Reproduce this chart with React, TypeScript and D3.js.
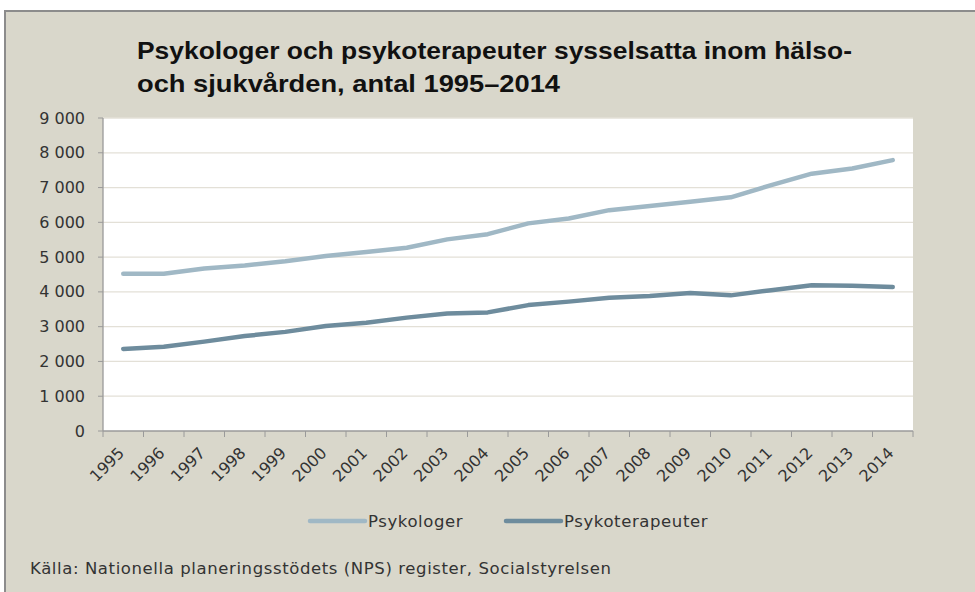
import React from 'react';
import * as d3 from 'd3';

const years = ['1995', '1996', '1997', '1998', '1999', '2000', '2001', '2002', '2003', '2004',
  '2005', '2006', '2007', '2008', '2009', '2010', '2011', '2012', '2013', '2014'];
const psykologer = [4520, 4520, 4670, 4760, 4880, 5030, 5150, 5270, 5510, 5660,
  5970, 6110, 6350, 6470, 6590, 6720, 7070, 7400, 7550, 7790];
const psykoterapeuter = [2360, 2420, 2570, 2730, 2850, 3020, 3110, 3260, 3380, 3410,
  3620, 3720, 3830, 3880, 3970, 3900, 4050, 4190, 4180, 4140];
const yTicks = [0, 1000, 2000, 3000, 4000, 5000, 6000, 7000, 8000, 9000];
const titleLines = ['Psykologer och psykoterapeuter sysselsatta inom hälso-', 'och sjukvården, antal 1995–2014'];
const seriesNames = ['Psykologer', 'Psykoterapeuter'];
const source = 'Källa: Nationella planeringsstödets (NPS) register, Socialstyrelsen';

const W = 975;
const H = 592;
const m = { left: 103, right: 913, top: 118, bottom: 431 };
const colors = ['#a0b8c5', '#6e8c9d'];
const font = '"DejaVu Sans", sans-serif';

export default function App() {
  const x = d3.scaleBand().domain(years).range([m.left, m.right]);
  const y = d3.scaleLinear().domain([0, 9000]).range([m.bottom, m.top]);
  const line = d3.line<number>()
    .x((_, i) => x(years[i])! + x.bandwidth() / 2)
    .y(d => y(d));
  const fmt = (v: number) => d3.format(',')(v).replace(',', ' ');
  const series = [psykologer, psykoterapeuter];
  const bounds = [...years.map(yr => x(yr)!), m.right];

  return (
    <svg width={W} height={H} style={{ position: 'absolute', left: 0, top: 0 }}>
      <rect x={0} y={0} width={W} height={H} fill="#fff" />
      <rect x={5} y={11} width={W + 10} height={H} fill="#d9d7cb" stroke="#8c8c8c" strokeWidth={2} />
      {titleLines.map((t, i) => (
        <text key={i} x={137} y={59 + i * 33} fontFamily='"Liberation Sans", Arial, sans-serif'
          fontWeight="bold" fontSize={24} fill="#111"
          textLength={[715, 423][i]} lengthAdjust="spacingAndGlyphs">{t}</text>
      ))}
      <rect x={m.left} y={m.top} width={m.right - m.left} height={m.bottom - m.top} fill="#fff" />
      {yTicks.filter(t => t > 0).map(t => (
        <line key={t} x1={m.left} x2={m.right} y1={y(t)} y2={y(t)} stroke="#e3e0d7" strokeWidth={1.3} />
      ))}
      {yTicks.map(t => (
        <g key={t}>
          <line x1={m.left - 5} x2={m.left} y1={y(t)} y2={y(t)} stroke="#9a9a9a" />
          <text x={85} y={y(t)} dy="0.35em" textAnchor="end" fontFamily={font} fontSize={16} fill="#333">{fmt(t)}</text>
        </g>
      ))}
      <line x1={m.left} x2={m.left} y1={m.top} y2={m.bottom} stroke="#9a9a9a" strokeWidth={1.3} />
      <line x1={m.left} x2={m.right} y1={m.bottom} y2={m.bottom} stroke="#9a9a9a" strokeWidth={1.3} />
      {bounds.map((b, i) => (
        <line key={i} x1={b} x2={b} y1={m.bottom} y2={m.bottom + 6} stroke="#9a9a9a" />
      ))}
      {years.map(yr => {
        const cx = x(yr)! + x.bandwidth() / 2 + 2;
        const cy = 454;
        return (
          <text key={yr} x={cx} y={cy} textAnchor="end" fontFamily={font} fontSize={16} fill="#333"
            transform={`rotate(-45 ${cx} ${cy})`}>{yr}</text>
        );
      })}
      {series.map((s, i) => (
        <path key={i} d={line(s)!} fill="none" stroke={colors[i]} strokeWidth={4.5}
          strokeLinejoin="round" strokeLinecap="round" />
      ))}
      {seriesNames.map((n, i) => {
        const lx = [310, 506][i];
        return (
          <g key={n}>
            <line x1={lx} x2={lx + 55} y1={521} y2={521} stroke={colors[i]} strokeWidth={4.5} strokeLinecap="round" />
            <text x={lx + 58} y={521} dy="0.35em" fontFamily={font} fontSize={16.5} letterSpacing={0.6} fill="#333">{n}</text>
          </g>
        );
      })}
      <text x={30} y={574} fontFamily={font} fontSize={16.5} letterSpacing={0.6} fill="#333">{source}</text>
    </svg>
  );
}
